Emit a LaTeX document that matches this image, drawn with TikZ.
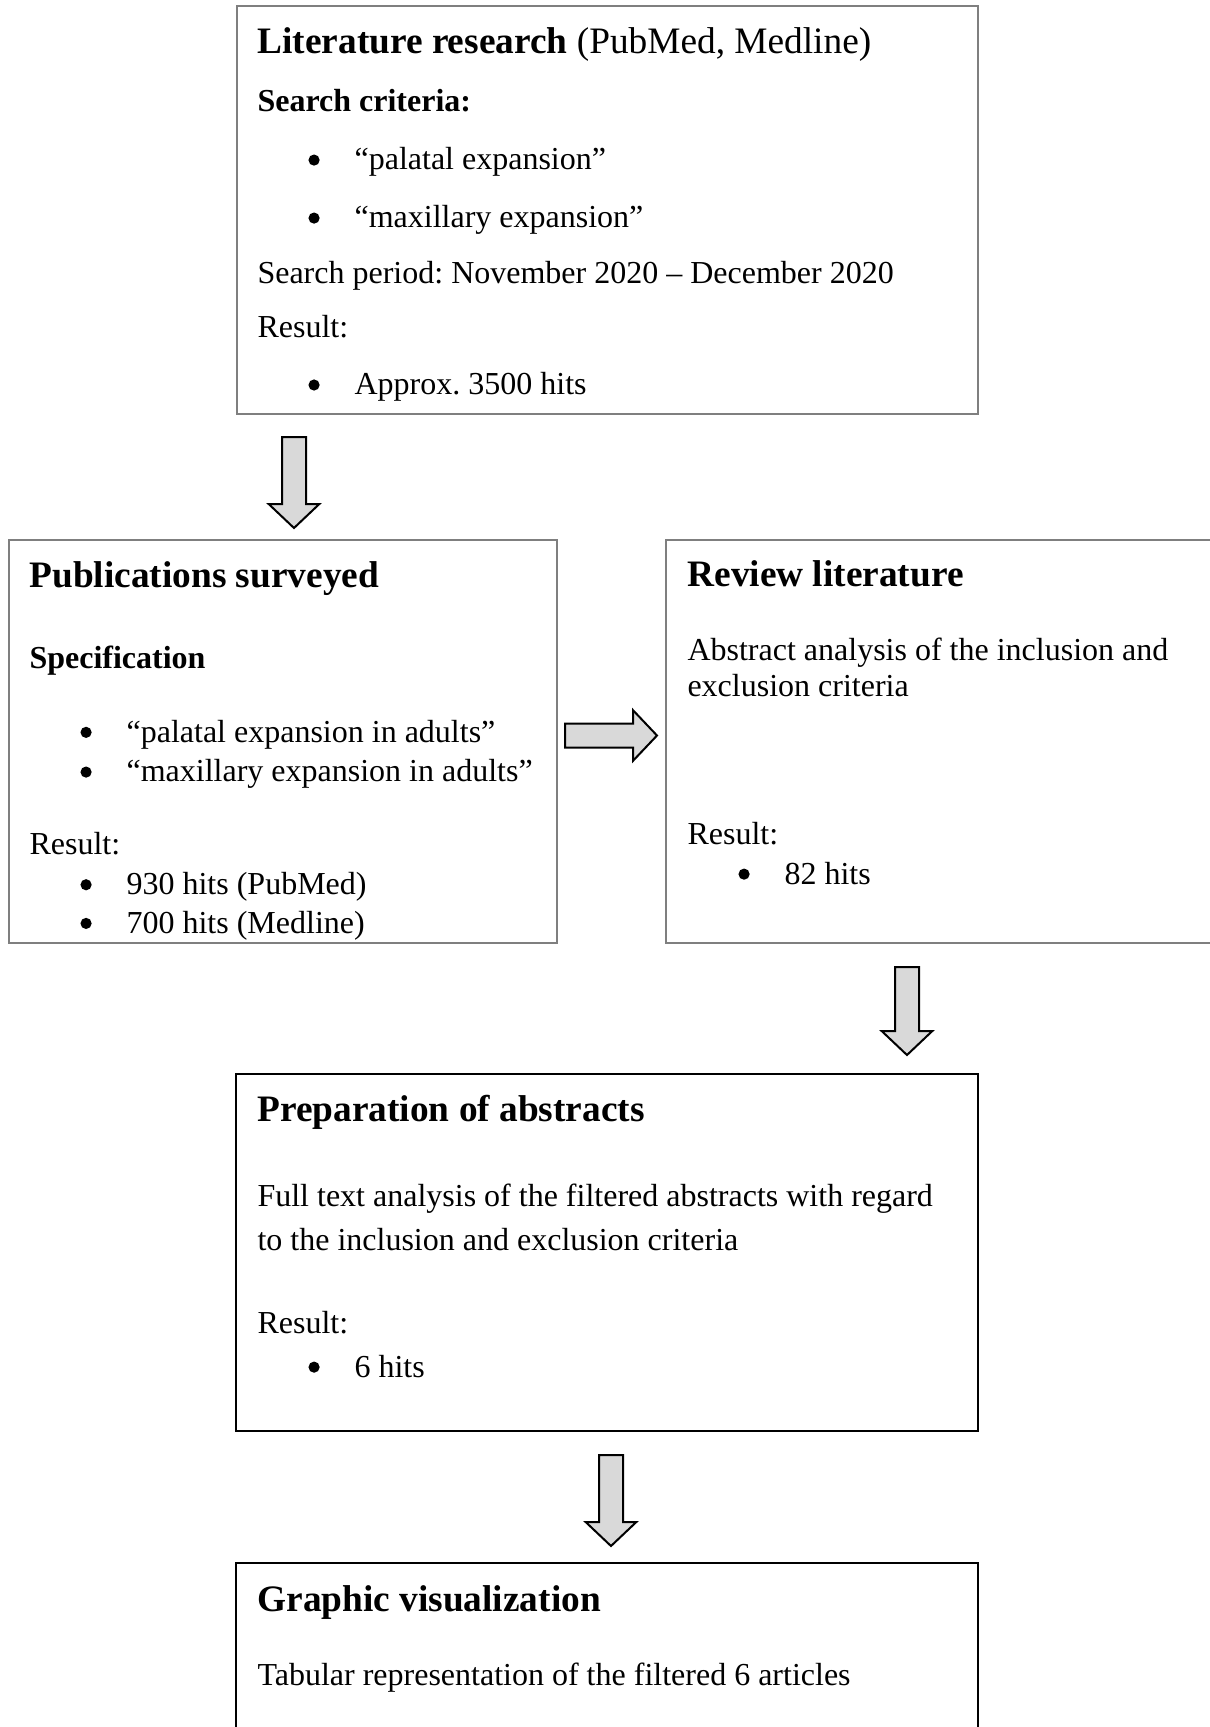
\documentclass[tikz,border=0pt]{standalone}
\usepackage{fontspec}
\setmainfont{Liberation Serif}
\usetikzlibrary{calc}
\definecolor{frame}{HTML}{7F7F7F}
\definecolor{arrfill}{HTML}{D9D9D9}
\newlength{\px}\setlength{\px}{0.375pt}
\newcommand{\itm}{\hspace*{19.1pt}\makebox[17.3pt][l]{\tikz[baseline=0pt]\fill (0pt,3.7pt) circle (2.1pt);}}
\newcommand{\hd}[1]{{\fontsize{14pt}{14.9pt}\selectfont #1}}

\begin{document}
\begin{tikzpicture}[
  x=0.375pt, y=-0.375pt,
  box/.style={draw=frame, line width=0.9pt, inner sep=0pt, outer sep=0pt, anchor=north west},
  boxk/.style={box, draw=black, line width=1.1pt},
  txt/.style={anchor=base west, inner sep=0pt, align=flush left, text width=700\px,
              font=\fontsize{12pt}{14.9pt}\selectfont\frenchspacing},
  fat/.style={draw=black, line width=0.75pt, fill=arrfill,
    to path={($(\tikztostart)!4.5pt!90:(\tikztotarget)$)
      -- ($($(\tikztotarget)!9pt!(\tikztostart)$)!4.5pt!90:(\tikztotarget)$)
      -- ($($(\tikztotarget)!9pt!(\tikztostart)$)!9.5pt!90:(\tikztotarget)$)
      -- (\tikztotarget)
      -- ($($(\tikztotarget)!9pt!(\tikztostart)$)!9.5pt!-90:(\tikztotarget)$)
      -- ($($(\tikztotarget)!9pt!(\tikztostart)$)!4.5pt!-90:(\tikztotarget)$)
      -- ($(\tikztostart)!4.5pt!-90:(\tikztotarget)$) -- cycle}}
]
\useasboundingbox (0,0) rectangle (1210,1727);

\node[box, minimum width=741\px, minimum height=408\px] (lit) at (237,6) {};
\node[box, minimum width=548\px, minimum height=403\px] (pub) at (9,540) {};
\node[box, minimum width=548\px, minimum height=403\px] (rev) at (666,540) {};
\node[boxk, minimum width=742\px, minimum height=357\px] (prep) at (236,1074) {};
\node[boxk, minimum width=742\px, minimum height=200\px] (vis) at (236,1563) {};

\node[txt] (lit-txt) at ($(lit.north west)+(20,47)$)
  {\hd{\textbf{Literature research} (PubMed, Medline)}\\[6.85pt]
   \textbf{Search criteria:}\\[7.2pt]
   \itm “palatal expansion”\\[6.85pt]
   \itm “maxillary expansion”\\[5.75pt]
   Search period: November 2020 – December 2020\\[5.7pt]
   Result:\\[6.45pt]
   \itm Approx. 3500 hits};
\node[txt] (pub-txt) at ($(pub.north west)+(20,47)$)
  {\hd{\textbf{Publications surveyed}}\\[15.5pt]
   \textbf{Specification}\\[12.9pt]
   \itm “palatal expansion in adults”\\
   \itm “maxillary expansion in adults”\\[12.45pt]
   Result:\\
   \itm 930 hits (PubMed)\\[-0.4pt]
   \itm 700 hits (Medline)};
\node[txt] (rev-txt) at ($(rev.north west)+(21,46)$)
  {\hd{\textbf{Review literature}}\\[12.85pt]
   Abstract analysis of the inclusion and\\[-1.4pt]
   exclusion criteria\\[40.6pt]
   Result:\\[0.1pt]
   \itm 82 hits};
\node[txt] (prep-txt) at ($(prep.north west)+(21,47)$)
  {\hd{\textbf{Preparation of abstracts}}\\[17pt]
   Full text analysis of the filtered abstracts with regard\\[1.6pt]
   to the inclusion and exclusion criteria\\[16.2pt]
   Result:\\[1.6pt]
   \itm 6 hits};
\node[txt] (vis-txt) at ($(vis.north west)+(21,48)$)
  {\hd{\textbf{Graphic visualization}}\\[12.85pt]
   Tabular representation of the filtered 6 articles};

\coordinate (a1s) at ($(lit.south west)+(57,23)$);
\coordinate (a1e) at ($(pub.north west)+(285,-12)$);
\coordinate (a2s) at ($(pub.east)+(8,-6)$);
\coordinate (a2e) at ($(rev.west)+(-9,-6)$);
\coordinate (a3s) at ($(rev.south west)+(241,24)$);
\coordinate (a3e) at ($(prep.north west)+(671,-19)$);
\coordinate (a4s) at ($(prep.south west)+(375,24)$);
\coordinate (a4e) at ($(vis.north west)+(375,-17)$);
\draw[fat] (a1s) to (a1e);
\draw[fat] (a2s) to (a2e);
\draw[fat] (a3s) to (a3e);
\draw[fat] (a4s) to (a4e);
\end{tikzpicture}
\end{document}
